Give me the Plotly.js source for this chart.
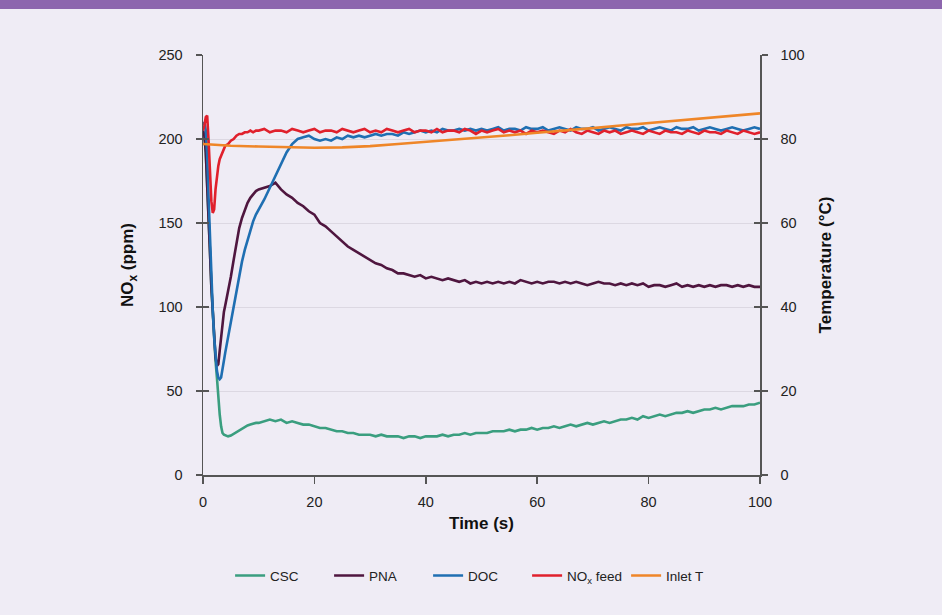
<!DOCTYPE html>
<html>
<head>
<meta charset="utf-8">
<script src="https://cdn.plot.ly/plotly-3.0.1.min.js"></script>
<style>
html,body{margin:0;padding:0;background:#efecf5;}
#wrap{position:relative;width:942px;height:615px;}
#bar{position:absolute;left:0;top:0;width:942px;height:9px;background:#8d66ae;z-index:5;}
#chart{position:absolute;left:0;top:0;width:942px;height:615px;}
</style>
</head>
<body>
<div id="wrap"><div id="chart"></div><div id="bar"></div></div>
<script>
// Time axis (s)
const time = [0,0.25,0.5,0.75,1,1.25,1.5,1.75,2,2.25,2.5,2.75,3,3.25,3.5,3.75,4,4.5,5,5.5,6,6.5,7,7.5,8,8.5,9,9.5,10,
11,12,13,14,15,16,17,18,19,20,21,22,23,24,25,26,27,28,29,30,31,32,33,34,35,36,37,38,39,40,
41,42,43,44,45,46,47,48,49,50,51,52,53,54,55,56,57,58,59,60,61,62,63,64,65,66,67,68,69,70,
71,72,73,74,75,76,77,78,79,80,81,82,83,84,85,86,87,88,89,90,91,92,93,94,95,96,97,98,99,100];

// NOx (ppm)
const csc = [205,202,192,175,155,133,112,95,80,68,58,45,36,29,25,24,23.5,23,23.5,24.5,26,27,27.5,28.5,29.5,30,30.5,31,31,
32,33,32,33,31,32,31,30,30,29,28,28,27,26,26,25,25,24,24,24,23,24,23,23,23,22,23,23,22,23,
23,23,24,23,24,24,25,24,25,25,25,26,26,26,27,26,27,27,28,27,28,28,29,28,29,30,29,30,31,30,
31,32,31,32,33,33,34,33,35,34,35,36,35,36,37,37,38,37,38,39,39,40,39,40,41,41,41,42,42,43];

const pna = [205,202,192,175,155,133,112,95,80,70,65,66,74,82,90,97,101,109,118,128,138,147,153,158,162,165,167,169,170,
171,172,174,170,167,165,162,160,157,155,150,148,145,142,139,136,134,132,130,128,126,125,123,122,120,120,119,118,119,117,
118,117,116,117,116,115,116,114,115,114,115,114,115,114,115,114,116,115,114,115,114,115,115,114,115,114,115,114,113,114,
115,114,114,113,114,113,114,113,114,112,113,113,112,113,114,112,113,112,113,112,113,112,113,113,112,113,112,113,112,112];

const doc = [208,210,205,190,165,140,118,98,82,70,62,58,57,58,62,68,73,82,92,102,111,120,127,134,140,146,151,155,158,
164,171,178,185,192,197,200,201,202,200,199,200,199,201,200,202,201,202,201,202,203,202,203,203,202,204,203,204,205,204,
205,204,206,205,205,206,205,206,205,206,205,206,207,205,206,206,205,207,206,206,207,205,206,207,206,205,207,206,206,207,
205,206,207,206,205,207,206,206,207,205,206,207,206,205,207,206,206,207,205,206,207,206,205,206,207,206,205,206,207,206];

const noxFeed = [205,208,213,214,199,180,163,156,158,170,179,184,188,190,193,194,196,197,199,200,202,203,203,204,204,205,204,205,205,
206,204,205,205,204,206,205,204,205,206,204,205,205,204,206,205,204,205,206,204,205,204,206,205,204,205,206,204,205,205,
204,206,204,205,205,204,206,205,203,205,204,205,206,204,205,204,205,203,205,204,205,204,203,205,204,206,204,203,205,204,
203,205,204,205,203,204,205,204,203,205,204,203,205,204,204,203,205,204,203,205,204,204,203,205,204,203,205,204,203,204];

// Inlet temperature (°C)
const timeT = [0,2,5,10,15,20,25,30,35,40,45,50,55,60,65,70,75,80,85,90,95,100];
const inletT = [78.8,78.6,78.4,78.2,78.0,77.9,78.0,78.3,78.8,79.3,79.9,80.4,80.9,81.5,82.0,82.6,83.2,83.8,84.4,85.0,85.6,86.1];

const names = ['CSC','PNA','DOC','NO<sub>x</sub> feed','Inlet T'];
const colors = ['#3a9e7f','#4f163f','#1f6fb2','#e0202c','#ef8628'];

const font = 'Liberation Sans, Arial, sans-serif';
const lw = 2.6;
const traces = [
  {x:time, y:csc, name:names[0], line:{color:colors[0], width:lw}},
  {x:time, y:pna, name:names[1], line:{color:colors[1], width:lw}},
  {x:time, y:doc, name:names[2], line:{color:colors[2], width:lw}},
  {x:time, y:noxFeed, name:names[3], line:{color:colors[3], width:lw}},
  {x:timeT, y:inletT, name:names[4], yaxis:'y2', line:{color:colors[4], width:lw}},
  {x:[], y:[], yaxis:'y3', showlegend:false, hoverinfo:'skip'},
  {x:[], y:[], yaxis:'y4', showlegend:false, hoverinfo:'skip'}
].map(t => Object.assign({type:'scatter', mode:'lines'}, t));

const axCol = '#555555';
const tickFont = {family:font, size:14.5, color:'#222'};
const titleFont = {family:font, size:17, color:'#111', weight:'bold'};
const layout = {
  width:942, height:615,
  paper_bgcolor:'#efecf5', plot_bgcolor:'#efecf5',
  margin:{l:203, r:182, t:55, b:140},
  font:{family:font, color:'#222'},
  showlegend:true,
  legend:{orientation:'h', x:0.493, xanchor:'center', y:-0.24, yanchor:'middle', entrywidth:54, entrywidthmode:'pixels',
          font:{family:font,size:13.5,color:'#222'}, bgcolor:'rgba(0,0,0,0)'},
  xaxis:{range:[0,100], dtick:20, tick0:0, showgrid:false, zeroline:false, showline:true, linecolor:axCol, linewidth:1.5,
         ticks:'outside', ticklen:7, tickwidth:1.5, tickcolor:axCol, tickfont:tickFont, ticklabelstandoff:6,
         title:{text:'Time (s)', font:titleFont, standoff:8}},
  yaxis:{range:[0,250], dtick:50, tick0:0, showgrid:true, gridcolor:'#dcd8e2', gridwidth:1, zeroline:false, showline:true, linecolor:axCol, linewidth:1.5,
         ticks:'outside', ticklen:6, tickwidth:1.5, tickcolor:axCol, tickfont:tickFont, ticklabelstandoff:10,
         title:{text:'NO<sub>x</sub> (ppm)', font:titleFont, standoff:20}},
  yaxis2:{range:[0,100], dtick:20, tick0:0, overlaying:'y', side:'right', anchor:'x', showgrid:false, zeroline:false, showline:true, linecolor:axCol, linewidth:1.5,
         ticks:'outside', ticklen:6, tickwidth:1.5, tickcolor:axCol, tickfont:tickFont, ticklabelstandoff:10,
         title:{text:'Temperature (°C)', font:titleFont, standoff:15}},
  yaxis3:{range:[0,250], dtick:50, tick0:0, overlaying:'y', side:'left', anchor:'x', showgrid:false, zeroline:false, showline:false,
         ticks:'inside', ticklen:6, tickwidth:1.5, tickcolor:axCol, showticklabels:false},
  yaxis4:{range:[0,100], dtick:20, tick0:0, overlaying:'y', side:'right', anchor:'x', showgrid:false, zeroline:false, showline:false,
         ticks:'inside', ticklen:6, tickwidth:1.5, tickcolor:axCol, showticklabels:false}
};
Plotly.newPlot('chart', traces, layout, {displayModeBar:false, staticPlot:true});
</script>
</body>
</html>
